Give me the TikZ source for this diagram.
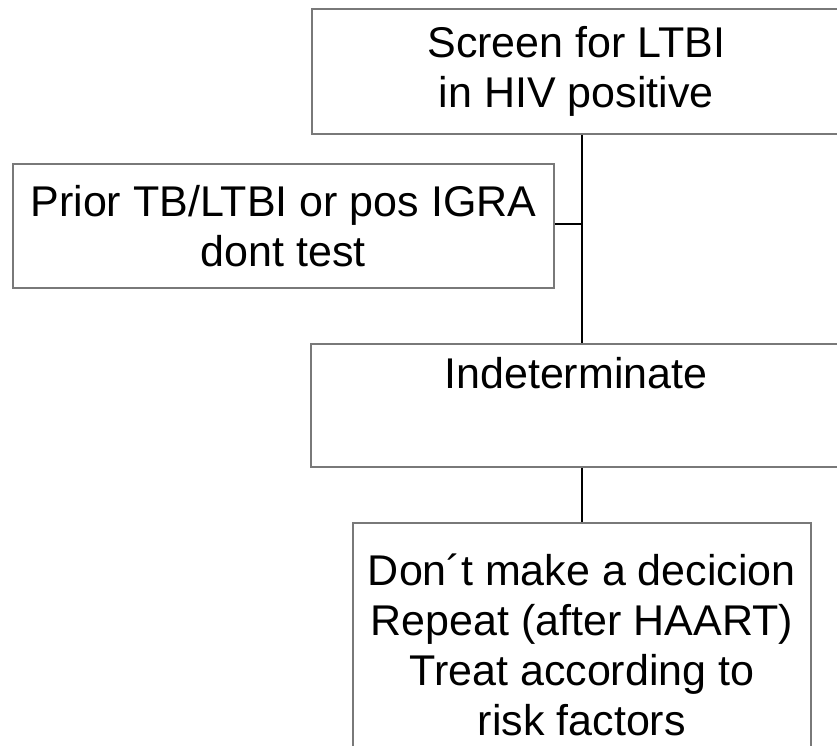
\documentclass[tikz,border=0pt]{standalone}
\usepackage{fontspec}
\setmainfont{Liberation Sans}
\tikzset{box/.style={draw=gray!95!black, line width=1.8pt, align=center, inner sep=0pt, anchor=north west, font=\fontsize{43}{50}\selectfont}}
\begin{document}
\begin{tikzpicture}[x=1pt, y=-1pt]
\useasboundingbox (0,0) rectangle (837,745);
\node[box, minimum width=529pt, minimum height=125pt] (scr) at (311,8) {Screen for LTBI\\in HIV positive};
\node[box, minimum width=541pt, minimum height=124pt] (prior) at (12,163) {Prior TB/LTBI or pos IGRA\\dont test};
\node[box, minimum width=530pt, minimum height=123pt] (indet) at (310,343) {Indeterminate\\\strut};
\node[box, minimum width=458pt, minimum height=244pt] (dec) at (352,522) {Don´t make a decicion\\Repeat (after HAART)\\Treat according to\\risk factors};
\coordinate (jn) at (582,224);
\draw[line width=1.8pt](scr.south -| jn) -- (indet.north -| jn);
\draw[line width=1.8pt](prior.east |- jn) -- (jn);
\draw[line width=1.8pt](indet.south -| jn) -- (dec.north -| jn);
\end{tikzpicture}
\end{document}
